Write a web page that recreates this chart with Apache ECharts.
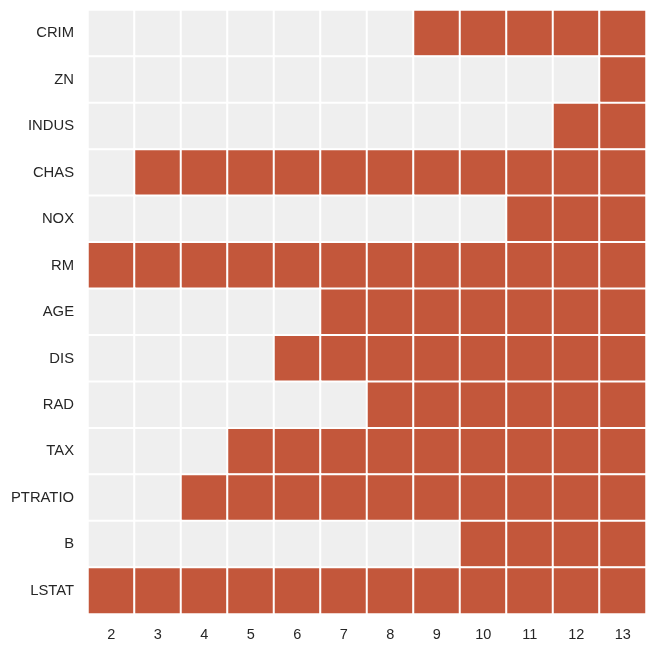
<!DOCTYPE html>
<html>
<head>
<meta charset="utf-8">
<script src="https://cdn.jsdelivr.net/npm/echarts@6/dist/echarts.min.js"></script>
<style>
html, body { margin: 0; padding: 0; background: #fff; }
#chart { width: 655px; height: 651px; }
</style>
</head>
<body>
<div id="chart"></div>
<script>
// number of features kept (x axis)
let nFeatures = ['2', '3', '4', '5', '6', '7', '8', '9', '10', '11', '12', '13'];
let features = ['CRIM', 'ZN', 'INDUS', 'CHAS', 'NOX', 'RM', 'AGE', 'DIS', 'RAD', 'TAX', 'PTRATIO', 'B', 'LSTAT'];
// 1 = feature selected, one row per feature
let CRIM    = [0, 0, 0, 0, 0, 0, 0, 1, 1, 1, 1, 1];
let ZN      = [0, 0, 0, 0, 0, 0, 0, 0, 0, 0, 0, 1];
let INDUS   = [0, 0, 0, 0, 0, 0, 0, 0, 0, 0, 1, 1];
let CHAS    = [0, 1, 1, 1, 1, 1, 1, 1, 1, 1, 1, 1];
let NOX     = [0, 0, 0, 0, 0, 0, 0, 0, 0, 1, 1, 1];
let RM      = [1, 1, 1, 1, 1, 1, 1, 1, 1, 1, 1, 1];
let AGE     = [0, 0, 0, 0, 0, 1, 1, 1, 1, 1, 1, 1];
let DIS     = [0, 0, 0, 0, 1, 1, 1, 1, 1, 1, 1, 1];
let RAD     = [0, 0, 0, 0, 0, 0, 1, 1, 1, 1, 1, 1];
let TAX     = [0, 0, 0, 1, 1, 1, 1, 1, 1, 1, 1, 1];
let PTRATIO = [0, 0, 1, 1, 1, 1, 1, 1, 1, 1, 1, 1];
let B       = [0, 0, 0, 0, 0, 0, 0, 0, 1, 1, 1, 1];
let LSTAT   = [1, 1, 1, 1, 1, 1, 1, 1, 1, 1, 1, 1];

let rows = [CRIM, ZN, INDUS, CHAS, NOX, RM, AGE, DIS, RAD, TAX, PTRATIO, B, LSTAT];

let data = [];
rows.forEach(function(row, i) {
    row.forEach(function(v, j) {
        data.push([j, i, v]);
    });
});

let chart = echarts.init(document.getElementById('chart'));
chart.setOption({
    animation: false,
    grid: { left: 88, right: 9, top: 10, bottom: 37 },
    xAxis: {
        type: 'category',
        data: nFeatures,
        axisLine: { show: false },
        axisTick: { show: false },
        splitLine: { show: false },
        axisLabel: { color: '#262626', fontSize: 14.5, fontFamily: 'Liberation Sans', margin: 13 }
    },
    yAxis: {
        type: 'category',
        data: features,
        inverse: true,
        axisLine: { show: false },
        axisTick: { show: false },
        splitLine: { show: false },
        axisLabel: { color: '#262626', fontSize: 14.8, fontFamily: 'Liberation Sans', margin: 14 }
    },
    visualMap: {
        show: false,
        type: 'piecewise',
        pieces: [
            { value: 0, color: '#efefef' },
            { value: 1, color: '#c3573b' }
        ]
    },
    series: [{
        type: 'heatmap',
        data: data,
        itemStyle: { borderColor: '#ffffff', borderWidth: 2 }
    }]
});
</script>
</body>
</html>
